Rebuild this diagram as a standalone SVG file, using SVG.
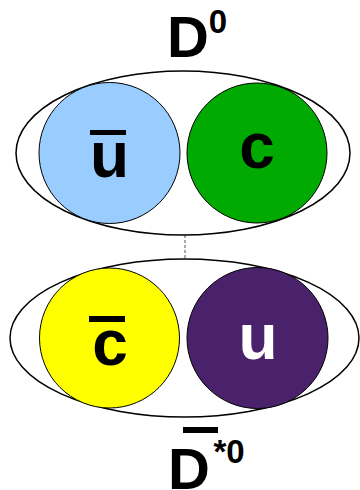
<svg xmlns="http://www.w3.org/2000/svg" width="360" height="490" viewBox="0 0 360 490">
<style>
.shell{fill:#fff;stroke:#000;stroke-width:1.5}
.q{stroke:#000;stroke-width:1}
.t{font-family:"Liberation Sans",Arial,sans-serif;font-weight:bold;text-anchor:middle}
.bar{fill:#000}
</style>
<rect width="360" height="490" fill="#fff"/>
<g id="connectors">
<line x1="185" y1="235" x2="185" y2="259" stroke="#555" stroke-width="1" stroke-dasharray="3,2"/>
</g>
<g id="D0">
<ellipse class="shell" cx="183" cy="153" rx="167" ry="82"/>
<text class="t" x="188" y="57" font-size="58">D</text>
<text class="t" x="218" y="33" font-size="33">0</text>
</g>
<g id="ubar">
<circle class="q" cx="109.5" cy="153" r="70.5" fill="#99ccff"/>
<rect class="bar" x="90" y="130" width="36" height="5"/>
<text class="t" x="109.5" y="177" font-size="64">u</text>
</g>
<g id="c">
<circle class="q" cx="257" cy="153" r="70" fill="#00aa00"/>
<text class="t" x="257" y="168" font-size="64">c</text>
</g>
<g id="Dstar0bar">
<ellipse class="shell" cx="184.5" cy="338" rx="174.5" ry="79"/>
<rect class="bar" x="183" y="427" width="35" height="6"/>
<text class="t" x="189" y="489" font-size="58">D</text>
<text class="t" x="229" y="463" font-size="33">*0</text>
</g>
<g id="cbar">
<circle class="q" cx="109.5" cy="338" r="70" fill="#ffff00"/>
<rect class="bar" x="89" y="316" width="36" height="6"/>
<text class="t" x="110" y="365" font-size="64">c</text>
</g>
<g id="u">
<circle class="q" cx="257.5" cy="338" r="70.5" fill="#4a216b"/>
<text class="t" x="258" y="359" font-size="64" fill="#fff">u</text>
</g>
</svg>
